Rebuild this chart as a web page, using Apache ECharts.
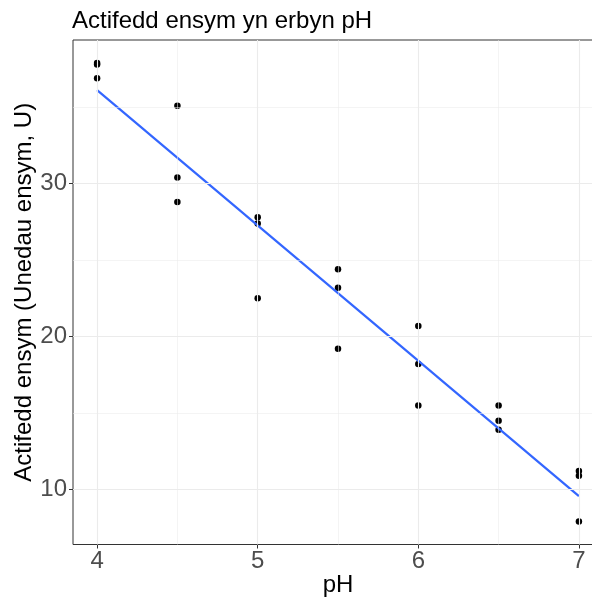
<!DOCTYPE html>
<html>
<head>
<meta charset="utf-8">
<script src="https://cdn.jsdelivr.net/npm/echarts@6/dist/echarts.min.js"></script>
<style>
html,body{margin:0;padding:0;background:#fff;}
#chart{width:592px;height:599px;}
</style>
</head>
<body>
<div id="chart"></div>
<script>
// ---- data ----
var ph = [4,4,4, 4.5,4.5,4.5, 5,5,5, 5.5,5.5,5.5, 6,6,6, 6.5,6.5,6.5, 7,7,7];
var activity = [37.9,37.8,36.9, 35.1,30.4,28.8, 27.8,27.4,22.5, 24.4,23.2,19.2, 20.7,18.2,15.5, 15.5,14.5,13.9, 11.2,10.9,7.9];
var xTicks = [4,5,6,7];
var yTicks = [10,20,30];
var xMinor = [4.5,5.5,6.5];
var yMinor = [15,25,35];
var titleText = 'Actifedd ensym yn erbyn pH';
var xTitle = 'pH';
var yTitle = 'Actifedd ensym (Unedau ensym, U)';

// ---- derived ----
var points = ph.map(function(x,i){ return [x, activity[i]]; });
var n = ph.length, mx = 0, my = 0;
for (var i=0;i<n;i++){ mx += ph[i]; my += activity[i]; }
mx/=n; my/=n;
var sxy=0, sxx=0;
for (var i=0;i<n;i++){ sxy += (ph[i]-mx)*(activity[i]-my); sxx += (ph[i]-mx)*(ph[i]-mx); }
var slope = sxy/sxx, icpt = my - slope*mx;
var xLo = Math.min.apply(null, ph), xHi = Math.max.apply(null, ph);
var yLo = Math.min.apply(null, activity), yHi = Math.max.apply(null, activity);
var fitLine = [[xLo, icpt + slope*xLo], [xHi, icpt + slope*xHi]];
var xPad = (xHi-xLo)*0.05, yPad = (yHi-yLo)*0.05;

var font = 'Liberation Sans, Arial, Helvetica, sans-serif';
var chart = echarts.init(document.getElementById('chart'), null, {renderer:'canvas'});

function gl(vals, key, w){
  return vals.map(function(v){ var o = {}; o[key]=v; o.lineStyle={width:w}; return o; });
}

chart.setOption({
  animation: false,
  backgroundColor: '#ffffff',
  title: {
    text: titleText, left: 72, top: 9, padding: 0,
    textStyle: {fontFamily: font, fontSize: 24, fontWeight: 'normal', color: '#000'}
  },
  grid: {left: 73, top: 40, width: 530, height: 504.5, outerBoundsMode: 'none', containLabel: false,
         show: true, borderColor: '#333333', borderWidth: 1, backgroundColor: 'transparent'},
  xAxis: {
    type: 'value', min: xLo - xPad, max: xHi + xPad,
    name: xTitle, nameLocation: 'middle', nameGap: 29, nameMoveOverlap: false,
    nameTextStyle: {fontFamily: font, fontSize: 24, color: '#000', verticalAlign: 'top'},
    axisLine: {show: false},
    axisTick: {show: true, customValues: xTicks, length: 4, lineStyle: {color: '#333333', width: 1}},
    axisLabel: {customValues: xTicks, fontFamily: font, fontSize: 24, color: '#4D4D4D', margin: 5},
    splitLine: {show: false}
  },
  yAxis: {
    type: 'value', min: yLo - yPad, max: yHi + yPad,
    name: yTitle, nameLocation: 'middle', nameGap: 37, nameRotate: 90, nameMoveOverlap: false,
    nameTextStyle: {fontFamily: font, fontSize: 24, color: '#000', verticalAlign: 'bottom'},
    axisLine: {show: false},
    axisTick: {show: true, customValues: yTicks, length: 4, lineStyle: {color: '#333333', width: 1}},
    axisLabel: {customValues: yTicks, fontFamily: font, fontSize: 24, color: '#4D4D4D', margin: 6},
    splitLine: {show: false}
  },
  series: [
    {
      type: 'line', data: [], z: 1, silent: true,
      markLine: {
        silent: true, symbol: ['none','none'], label: {show: false},
        lineStyle: {color: '#EBEBEB', type: 'solid'},
        emphasis: {disabled: true},
        data: gl(xMinor,'xAxis',0.55).concat(gl(yMinor,'yAxis',0.55))
              .concat(gl(xTicks,'xAxis',1.1)).concat(gl(yTicks,'yAxis',1.1))
      }
    },
    {
      type: 'scatter', data: points, z: 3, symbol: 'circle', symbolSize: 6.5,
      itemStyle: {color: '#000000', borderWidth: 0, opacity: 1}, silent: true
    },
    {
      type: 'line', data: fitLine, z: 4, symbol: 'none', silent: true,
      lineStyle: {color: '#3366FF', width: 2.2}
    }
  ]
});
</script>
</body>
</html>
